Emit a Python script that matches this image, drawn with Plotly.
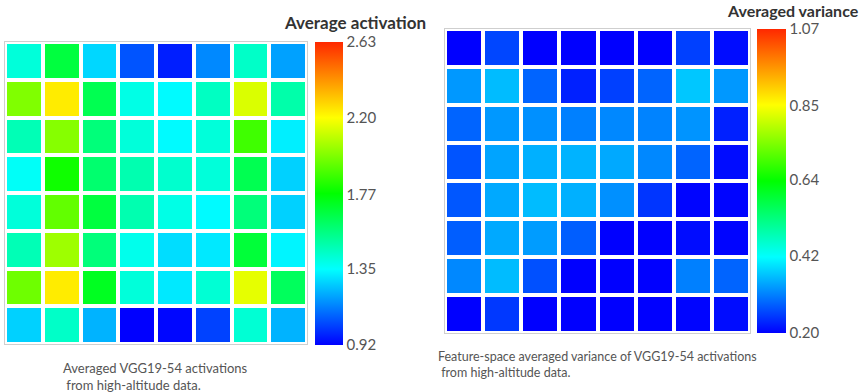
import plotly.graph_objects as go

# 8x8 grid of averaged VGG19-54 activations (row 1 = top)
activation = [
    [1.41, 1.67, 1.28, 1.06, 0.97, 1.15, 1.44, 1.19],
    [1.99, 2.24, 1.64, 1.39, 1.34, 1.45, 2.14, 1.49],
    [1.47, 2.00, 1.57, 1.41, 1.34, 1.41, 1.88, 1.32],
    [1.36, 1.80, 1.59, 1.48, 1.43, 1.41, 1.64, 1.27],
    [1.41, 1.94, 1.67, 1.48, 1.39, 1.34, 1.57, 1.27],
    [1.47, 2.04, 1.57, 1.38, 1.29, 1.31, 1.68, 1.33],
    [1.96, 2.24, 1.72, 1.41, 1.31, 1.42, 2.16, 1.62],
    [1.27, 1.44, 1.22, 0.92, 0.93, 1.03, 1.42, 1.22],
]

# 8x8 grid of feature-space averaged variance (row 1 = top)
variance = [
    [0.20, 0.26, 0.20, 0.20, 0.20, 0.20, 0.255, 0.21],
    [0.33, 0.36, 0.285, 0.227, 0.255, 0.285, 0.37, 0.33],
    [0.285, 0.33, 0.323, 0.309, 0.316, 0.312, 0.326, 0.227],
    [0.272, 0.34, 0.35, 0.353, 0.344, 0.316, 0.285, 0.21],
    [0.274, 0.344, 0.36, 0.35, 0.323, 0.245, 0.203, 0.203],
    [0.28, 0.344, 0.333, 0.28, 0.20, 0.20, 0.21, 0.203],
    [0.316, 0.36, 0.268, 0.20, 0.20, 0.20, 0.309, 0.285],
    [0.20, 0.248, 0.20, 0.20, 0.20, 0.20, 0.203, 0.21],
]

act_ticks = ["0.92", "1.35", "1.77", "2.20", "2.63"]
var_ticks = ["0.20", "0.42", "0.64", "0.85", "1.07"]

act_title = "Average activation"
var_title = "Averaged variance"
act_caption = "Averaged VGG19-54 activations<br> from high-altitude data."
var_caption = "Feature-space averaged variance of VGG19-54 activations<br> from high-altitude data."

rainbow = [
    [0.0, "rgb(0,0,255)"],
    [0.25, "rgb(0,255,255)"],
    [0.5, "rgb(0,255,0)"],
    [0.75, "rgb(255,255,0)"],
    [1.0, "rgb(255,40,0)"],
]

W, H = 868, 392
FONT = "Lato, 'Open Sans', sans-serif"
TICK_FONT = dict(family=FONT, size=15, color="#555")


def px_x(v):
    return v / W


def px_y(v):
    return 1 - v / H


act_vals = [float(t) for t in act_ticks]
var_vals = [float(t) for t in var_ticks]

fig = go.Figure()
fig.add_trace(go.Heatmap(
    z=activation, colorscale=rainbow, zmin=act_vals[0], zmax=act_vals[-1],
    xgap=4, ygap=4, xaxis="x", yaxis="y",
    colorbar=dict(
        x=px_x(315), xanchor="left", xpad=0, ypad=0,
        y=px_y(193.5), yanchor="middle", len=303, lenmode="pixels",
        thickness=28, outlinewidth=0,
        tickvals=act_vals, ticktext=act_ticks, ticks="", tickfont=TICK_FONT,
    ),
))
fig.add_trace(go.Heatmap(
    z=variance, colorscale=rainbow, zmin=var_vals[0], zmax=var_vals[-1],
    xgap=4, ygap=4, xaxis="x2", yaxis="y2",
    colorbar=dict(
        x=px_x(757), xanchor="left", xpad=0, ypad=0,
        y=px_y(181), yanchor="middle", len=304, lenmode="pixels",
        thickness=29, outlinewidth=0,
        tickvals=var_vals, ticktext=var_ticks, ticks="", tickfont=TICK_FONT,
    ),
))

axis_common = dict(showticklabels=False, ticks="", showgrid=False, zeroline=False,
                   showline=True, linecolor="#cfcfcf", linewidth=1, mirror=True)

fig.update_layout(
    width=W, height=H,
    margin=dict(l=0, r=0, t=0, b=0),
    paper_bgcolor="white", plot_bgcolor="white",
    xaxis=dict(domain=[px_x(5), px_x(307)], anchor="y", **axis_common),
    yaxis=dict(domain=[px_y(344), px_y(42)], anchor="x", autorange="reversed", **axis_common),
    xaxis2=dict(domain=[px_x(445), px_x(750)], anchor="y2", **axis_common),
    yaxis2=dict(domain=[px_y(333), px_y(29)], anchor="x2", autorange="reversed", **axis_common),
    annotations=[
        dict(text=f"<b>{act_title}</b>", x=px_x(355), y=px_y(22), xref="paper", yref="paper",
             showarrow=False, xanchor="center", yanchor="middle",
             font=dict(family=FONT, size=17, color="#333")),
        dict(text=f"<b>{var_title}</b>", x=px_x(793), y=px_y(10.5), xref="paper", yref="paper",
             showarrow=False, xanchor="center", yanchor="middle",
             font=dict(family=FONT, size=16, color="#333")),
        dict(text=act_caption, x=px_x(61), y=px_y(376), xref="paper", yref="paper",
             showarrow=False, xanchor="left", yanchor="middle", align="left",
             font=dict(family=FONT, size=13, color="#555")),
        dict(text=var_caption, x=px_x(436), y=px_y(364), xref="paper", yref="paper",
             showarrow=False, xanchor="left", yanchor="middle", align="left",
             font=dict(family=FONT, size=12.5, color="#555")),
    ],
)

fig.write_html("out.html")
